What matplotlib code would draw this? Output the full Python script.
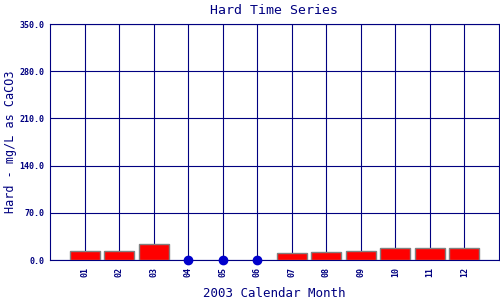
import numpy as np
import matplotlib
matplotlib.use('Agg')
import matplotlib.pyplot as plt

# Dados (nan = mes sem amostra)
meses = np.arange(1, 13)
rotulos = ['01', '02', '03', '04', '05', '06', '07', '08', '09', '10', '11', '12']
dureza = [13.4, 13.4, 23.7, np.nan, np.nan, np.nan, 10.4, 11.9, 13.4, 17.3, 17.3, 17.3]
y_ticks = [0, 70, 140, 210, 280, 350]

azul = '#000080'
fonte = 'DejaVu Sans Mono'

fig = plt.figure(figsize=(5, 3), dpi=100)
ax = fig.add_axes([0.1, 0.1333, 0.898, 0.7867])

dureza = np.array(dureza)
tem = ~np.isnan(dureza)
falta = np.isnan(dureza)

ax.bar(meses[tem], dureza[tem], width=0.87, color='#ff0000',
       edgecolor='#808080', linewidth=1, zorder=3)
ax.plot(meses[falta], np.zeros(falta.sum()), 'o', color='#0000cc',
        markersize=6, zorder=4, clip_on=False)

ax.set_xlim(0, 13)
ax.set_ylim(0, 350)
ax.set_xticks(meses)
ax.set_xticklabels(rotulos, rotation=90, fontsize=6, family=fonte,
                   color=azul, fontweight='bold')
ax.set_yticks(y_ticks)
ax.set_yticklabels([f'{v:.1f}' for v in y_ticks], fontsize=6, family=fonte,
                   color=azul, fontweight='bold')
ax.tick_params(length=0, pad=4)
ax.tick_params(axis='x', pad=5)

ax.grid(True, color=azul, linewidth=0.8, zorder=1)
ax.set_axisbelow(True)
for s in ax.spines.values():
    s.set_color(azul)
    s.set_linewidth(0.8)

ax.set_title('Hard Time Series', fontsize=9.5, family=fonte, color=azul, pad=7)
ax.set_ylabel('Hard - mg/L as CaCO3', fontsize=8.5, family=fonte, color=azul, va='center')
ax.set_xlabel('2003 Calendar Month', fontsize=9, family=fonte, color=azul, va='center')
ax.yaxis.set_label_coords(-0.087, 0.5)
ax.xaxis.set_label_coords(0.5, -0.14)

fig.savefig('out.png', dpi=100)
